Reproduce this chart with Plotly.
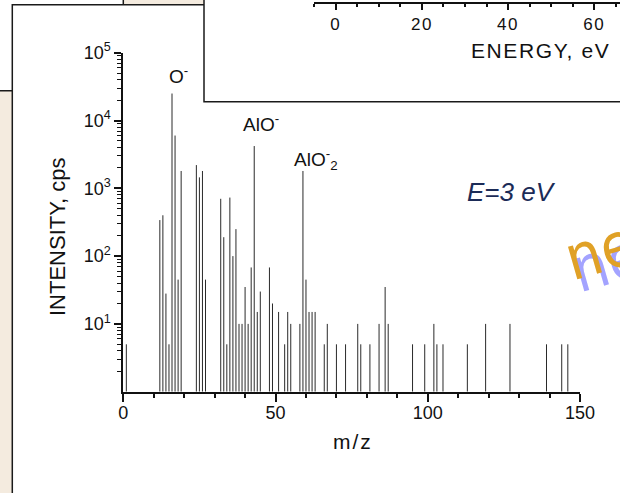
import math
import plotly.graph_objects as go

W, H = 620, 493

# Negative secondary-ion spectrum: m/z and intensity (cps)
mz = [1, 12, 13, 14, 15, 16, 17, 18, 19, 24, 25, 26, 27,
      32, 33, 34, 35, 36, 37, 38, 39, 40, 41, 42, 43, 44, 45,
      48, 49, 51, 53, 54, 55, 58, 59, 60, 61, 62, 63, 66, 67,
      70, 73, 77, 78, 81, 84, 86, 87, 95, 99, 102, 103, 105,
      113, 119, 127, 139, 144, 146]
intensity = [5, 340, 400, 28, 5, 25000, 6000, 45, 1800, 2200, 1450, 1800, 45,
             700, 190, 5, 730, 100, 250, 10, 10, 35, 10, 68, 4200, 15, 30,
             68, 20, 15, 5, 15, 10, 10, 1800, 45, 15, 15, 15, 5, 10,
             5, 5, 10, 5, 5, 10, 35, 10, 5, 5, 10, 5, 5,
             5, 10, 10, 5, 5, 5]

# Labelled peaks
ion_names = ["O<sup>-</sup>", "AlO<sup>-</sup>", "AlO<sup>-</sup><sub>2</sub>"]
ion_mz = [16, 43, 59]

# Axis ticks
x_ticks = [0, 50, 100, 150]
y_decades = [1, 2, 3, 4, 5]
energy_ticks = [0, 20, 40, 60]


def px(x):
    return x / W


def py(y):
    return 1 - y / H


def spaced(text, gap):
    return '<span style="letter-spacing:%.1fpx">%s</span>' % (gap, text)


FONT = "Liberation Sans, Arial, sans-serif"
INK = "#111111"

# vertical stick for each peak, from the floor of the log axis up to its value
seg_x, seg_y = [], []
for m, v in zip(mz, intensity):
    seg_x += [m, m, None]
    seg_y += [1, v, None]

fig = go.Figure()
fig.add_trace(go.Scatter(
    x=seg_x, y=seg_y, mode="lines",
    line=dict(color="#2a2a2a", width=1),
    showlegend=False, hoverinfo="skip",
))
# empty trace that carries the energy axis of the upper panel
fig.add_trace(go.Scatter(x=[None], y=[None], xaxis="x2", yaxis="y2",
                         showlegend=False, hoverinfo="skip"))

minor_y = [k * 10 ** n for n in range(0, 5) for k in range(2, 10)]

fig.update_layout(
    width=W, height=H,
    margin=dict(l=0, r=0, t=0, b=0, pad=0, autoexpand=False),
    showlegend=False,
    paper_bgcolor="#f4ebdf",
    plot_bgcolor="rgba(0,0,0,0)",
    font=dict(family=FONT, size=18, color=INK),
    xaxis=dict(
        domain=[px(123.3), px(580)], range=[0, 150], automargin=False,
        showgrid=False, zeroline=False,
        showline=True, linecolor=INK, linewidth=2,
        ticks="outside", ticklen=8, tickwidth=1.5, tickcolor=INK,
        tickmode="array", tickvals=x_ticks,
        ticktext=[str(t) for t in x_ticks],
        tickfont=dict(size=18), ticklabelstandoff=-4,
        minor=dict(ticks="outside", ticklen=4, tickwidth=1.5, tickcolor=INK,
                   tickvals=list(range(0, 151, 10)), showgrid=False),
    ),
    yaxis=dict(
        type="log", domain=[py(391.7), py(52.7)], range=[0, 5],
        automargin=False,
        showgrid=False, zeroline=False,
        showline=True, linecolor=INK, linewidth=2,
        ticks="outside", ticklen=7, tickwidth=1.5, tickcolor=INK,
        tickmode="array", tickvals=[10 ** d for d in y_decades],
        ticktext=["10<sup>%d</sup>" % d for d in y_decades],
        tickfont=dict(size=18),
        minor=dict(ticks="outside", ticklen=4, tickwidth=1, tickcolor=INK,
                   tickvals=minor_y, showgrid=False),
    ),
    xaxis2=dict(
        domain=[px(314.3), 1], range=[-5, 66], anchor="y2", automargin=False,
        showgrid=False, zeroline=False,
        showline=True, linecolor=INK, linewidth=1.5,
        ticks="outside", ticklen=6, tickwidth=1.5, tickcolor=INK,
        tickmode="array", tickvals=energy_ticks,
        ticktext=[spaced(str(t), 1.5) for t in energy_ticks],
        tickfont=dict(size=17),
        minor=dict(ticks="outside", ticklen=3.5, tickwidth=1.5, tickcolor=INK,
                   tickvals=list(range(-5, 70, 5)), showgrid=False),
    ),
    yaxis2=dict(domain=[py(2), 1], visible=False, range=[0, 1],
                automargin=False),
)

# background panels: upper-left box, main panel and the energy inset
panel_line = dict(color="#1a1a1a", width=1.5)
fig.add_shape(type="rect", xref="paper", yref="paper", layer="below",
              x0=px(-10), x1=px(123.3), y0=py(90.7), y1=py(-10),
              fillcolor="white", line=panel_line)
fig.add_shape(type="rect", xref="paper", yref="paper", layer="below",
              x0=px(12.3), x1=px(640), y0=py(520), y1=py(4.7),
              fillcolor="white", line=panel_line)
fig.add_shape(type="rect", xref="paper", yref="paper", layer="below",
              x0=px(204), x1=px(640), y0=py(101.7), y1=py(-10),
              fillcolor="white", line=panel_line)


def paper_text(x, y, text, **kw):
    fig.add_annotation(xref="paper", yref="paper", x=px(x), y=py(y),
                       text=text, showarrow=False,
                       xanchor="center", yanchor="middle", **kw)


# axis titles
paper_text(57, 237, "INTENSITY, cps", textangle=-90,
           font=dict(size=22, color=INK))
paper_text(353, 441, spaced("m/z", 2), font=dict(size=21, color=INK))
paper_text(540, 50, spaced("ENERGY, eV", 1.6), font=dict(size=21, color=INK))

# peak labels
label_shift = [(6, 19), (7, 23), (13, 11)]
for name, m, (dx, dy) in zip(ion_names, ion_mz, label_shift):
    v = intensity[mz.index(m)]
    fig.add_annotation(x=m, y=math.log10(v), text=name, showarrow=False,
                       xanchor="center", yanchor="middle",
                       xshift=dx, yshift=dy, font=dict(size=19, color=INK))

paper_text(511, 192, "<i>E=3 eV</i>", font=dict(size=26, color="#1b2b57"))

# logo fragment at the right edge
logo_font = "DejaVu Sans Condensed, DejaVu Sans"
paper_text(607, 262, "ne", textangle=-16,
           font=dict(family=logo_font, size=62, color="#a3a3ff"))
paper_text(600, 250, "ne", textangle=-16,
           font=dict(family=logo_font, size=62, color="#e0a126"))

fig.write_html("out.html")
